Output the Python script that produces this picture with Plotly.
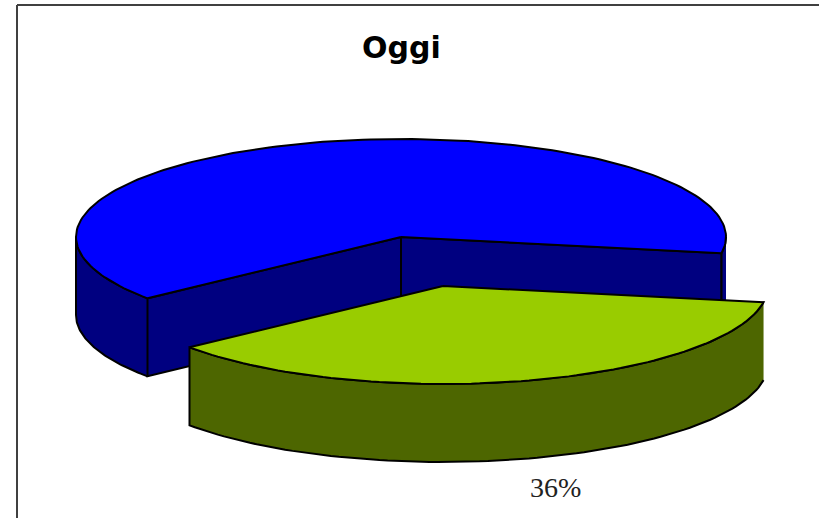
import numpy as np
import plotly.graph_objects as go

labels = ["Domani", "Oggi"]
values = [63.4, 36.6]
colors_top = ["#0000FF", "#99CC00"]
colors_side = ["#000080", "#4D6600"]
title_text = "Oggi"
label_text = "36%"

W, H = 819, 518
RX, RY, DEPTH = 325, 98, 78
CX, CY = 401, 237
EXPLODE = (42, 49)
START_DEG = 9.5


def rim(cx, cy, a0, a1, n=90):
    t = np.radians(np.linspace(a0, a1, n))
    return cx + RX * np.cos(t), cy + RY * np.sin(t)


def poly(fig, x, y, color):
    fig.add_trace(go.Scatter(x=list(x), y=list(y), mode="lines", fill="toself", fillcolor=color,
                             line=dict(color="black", width=2), hoverinfo="skip", showlegend=False))


fig = go.Figure()
sweep_green = values[1] / sum(values) * 360
g0, g1 = START_DEG, START_DEG + sweep_green
b0, b1 = g1, START_DEG + 360

# blue slice: visible walls
ax, ay = rim(CX, CY, b0, 180, 60)
poly(fig, np.r_[ax, ax[::-1]], np.r_[ay, ay[::-1] + DEPTH], colors_side[0])
# cut faces
ex0, ey0 = rim(CX, CY, b0, b0, 1)
ex1, ey1 = rim(CX, CY, b1, b1, 1)
poly(fig, [CX, ex0[0], ex0[0], CX, CX], [CY, ey0[0], ey0[0] + DEPTH, CY + DEPTH, CY], colors_side[0])
poly(fig, [CX, ex1[0], ex1[0], CX, CX], [CY, ey1[0], ey1[0] + DEPTH, CY + DEPTH, CY], colors_side[0])
# small wall right of cut
rx_, ry_ = rim(CX, CY, 0, START_DEG, 8)
poly(fig, np.r_[rx_, rx_[::-1]], np.r_[ry_, ry_[::-1] + DEPTH], colors_side[0])
# blue top
tx, ty = rim(CX, CY, b0, b1, 160)
poly(fig, np.r_[CX, tx, CX], np.r_[CY, ty, CY], colors_top[0])

# green slice
gx, gy = rim(CX + EXPLODE[0], CY + EXPLODE[1], g0, g1, 90)
poly(fig, np.r_[gx, gx[::-1]], np.r_[gy, gy[::-1] + DEPTH], colors_side[1])
poly(fig, np.r_[CX + EXPLODE[0], gx, CX + EXPLODE[0]], np.r_[CY + EXPLODE[1], gy, CY + EXPLODE[1]], colors_top[1])

fig.add_annotation(x=401, y=47, text=f"<b>{title_text}</b>", showarrow=False,
                   font=dict(family="DejaVu Sans", size=30, color="black"))
fig.add_annotation(x=555.5, y=487, text=label_text, showarrow=False,
                   font=dict(family="Liberation Serif", size=28, color="#222222"))

fig.update_layout(width=W, height=H, margin=dict(l=0, r=0, t=0, b=0), autosize=False,
                  paper_bgcolor="white", plot_bgcolor="white", showlegend=False,
                  xaxis=dict(range=[0, W], visible=False, fixedrange=True),
                  yaxis=dict(range=[H, 0], visible=False, fixedrange=True),
                  shapes=[dict(type="line", xref="x", yref="y", x0=17, y0=5, x1=W, y1=5,
                               line=dict(color="black", width=1.5)),
                          dict(type="line", xref="x", yref="y", x0=17, y0=5, x1=17, y1=H,
                               line=dict(color="#404040", width=2))])
fig.write_html("out.html", config=dict(displayModeBar=False),
               post_script="document.body.style.margin='0';document.documentElement.style.overflow='hidden';")
